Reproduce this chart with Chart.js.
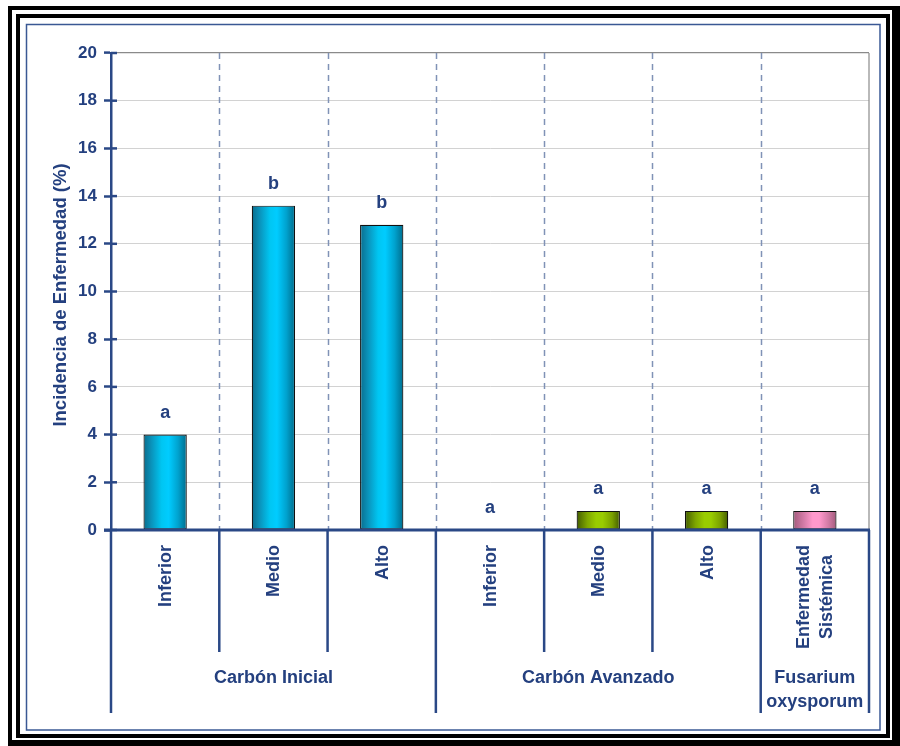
<!DOCTYPE html>
<html>
<head>
<meta charset="utf-8">
<script src="https://cdn.jsdelivr.net/npm/chart.js@4/dist/chart.umd.min.js"></script>
<style>
  html, body { margin: 0; padding: 0; background: #ffffff; }
  canvas { display: block; }
</style>
</head>
<body>
<canvas id="chart" width="900" height="746"></canvas>
<script>
// Treatments (x categories), grouped by disease type
const categories = ['Inferior', 'Medio', 'Alto', 'Inferior', 'Medio', 'Alto', ['Enfermedad', 'Sistémica']];
const groups = ['Carbón Inicial', 'Carbón Avanzado', ['Fusarium', 'oxysporum']];
const groupSizes = [3, 3, 1];
// Disease incidence (%) per treatment
const incidence = [4.0, 13.6, 12.8, 0, 0.8, 0.8, 0.8];
// Significance letters shown above each bar
const letters = ['a', 'b', 'b', 'a', 'a', 'a', 'a'];
const yTitle = 'Incidencia de Enfermedad (%)';
const yMin = 0, yMax = 20, yStep = 2;

const INK = '#24407F';
const AXIS = '#2A4886';
const FAMILY = '"Liberation Sans", Arial, sans-serif';

// Horizontal shading per group: cyan, olive green, pink
const palettes = [
  [[0, '#0A6C8C'], [0.18, '#0A92BA'], [0.42, '#00C6F2'], [0.58, '#00CCFF'], [0.8, '#00A2CE'], [1, '#006C8C']],
  [[0, '#435C00'], [0.25, '#7FA600'], [0.45, '#99CC00'], [0.6, '#99CC00'], [0.82, '#7AA000'], [1, '#435C00']],
  [[0, '#A35A7C'], [0.25, '#D47CA8'], [0.45, '#FF99CC'], [0.6, '#FF99CC'], [0.82, '#D07AA4'], [1, '#A35A7C']]
];
const BAR_FRACTION = 0.4;

function groupOf(i) {
  let acc = 0;
  for (let g = 0; g < groupSizes.length; g++) {
    acc += groupSizes[g];
    if (i < acc) return g;
  }
  return groupSizes.length - 1;
}

function barFill(ctx) {
  const chart = ctx.chart;
  const area = chart.chartArea;
  const i = ctx.dataIndex;
  if (!area || i === undefined) return '#00CCFF';
  const xs = chart.scales.x;
  const cx = xs.getPixelForValue(i);
  const w = (area.right - area.left) / categories.length * BAR_FRACTION;
  const grad = chart.ctx.createLinearGradient(cx - w / 2, 0, cx + w / 2, 0);
  palettes[groupOf(i)].forEach(([o, c]) => grad.addColorStop(o, c));
  return grad;
}

function boundaryX(chart, i) {
  return chart.scales.x.getPixelForValue(i - 0.5);
}

const decor = {
  id: 'decor',
  beforeDraw(chart) {
    const c = chart.ctx;
    c.save();
    // double black frame with a thicker right/bottom edge
    c.fillStyle = '#000';
    c.fillRect(8, 6, 892, 740);
    c.fillStyle = '#fff';
    c.fillRect(12, 10, 880, 730);
    c.fillStyle = '#000';
    c.fillRect(16, 14, 874, 724);
    c.fillStyle = '#fff';
    c.fillRect(20, 18, 866, 716);
    // thin blue chart border
    c.strokeStyle = '#3A5894';
    c.lineWidth = 1.5;
    c.strokeRect(26.5, 24.5, 853.5, 705.5);
    c.restore();
  },
  beforeDatasetsDraw(chart) {
    const c = chart.ctx;
    const a = chart.chartArea;
    c.save();
    // dashed separators between treatments
    c.strokeStyle = '#8092B6';
    c.lineWidth = 1.5;
    c.setLineDash([6, 5]);
    for (let i = 1; i < categories.length; i++) {
      const x = Math.round(boundaryX(chart, i)) + 0.5;
      c.beginPath();
      c.moveTo(x, a.top);
      c.lineTo(x, a.bottom);
      c.stroke();
    }
    c.setLineDash([]);
    // right plot border
    c.strokeStyle = '#8A8A8A';
    c.lineWidth = 1.2;
    c.beginPath();
    c.moveTo(a.right, a.top);
    c.lineTo(a.right, a.bottom);
    c.stroke();
    c.restore();
  },
  afterDatasetsDraw(chart) {
    const c = chart.ctx;
    const a = chart.chartArea;
    const ys = chart.scales.y;
    c.save();

    // inner halves of the y tick marks
    c.strokeStyle = AXIS;
    c.lineWidth = 2.5;
    ys.ticks.forEach(t => {
      const y = ys.getPixelForValue(t.value);
      c.beginPath();
      c.moveTo(a.left, y);
      c.lineTo(a.left + 6, y);
      c.stroke();
    });

    // category axis and drop lines between treatments / groups
    c.lineWidth = 3;
    c.beginPath();
    c.moveTo(a.left - 7, a.bottom);
    c.lineTo(a.right + 1, a.bottom);
    c.stroke();

    const groupEdges = new Set([0]);
    let acc = 0;
    groupSizes.forEach(s => { acc += s; groupEdges.add(acc); });
    c.lineWidth = 2.5;
    for (let i = 0; i <= categories.length; i++) {
      const x = boundaryX(chart, i);
      const yEnd = groupEdges.has(i) ? 713 : 652;
      c.beginPath();
      c.moveTo(x, a.bottom);
      c.lineTo(x, yEnd);
      c.stroke();
    }

    // rotated treatment labels
    c.fillStyle = INK;
    c.font = 'bold 18px ' + FAMILY;
    c.textAlign = 'center';
    c.textBaseline = 'middle';
    const lineGap = 23;
    categories.forEach((lab, i) => {
      const lines = Array.isArray(lab) ? lab : [lab];
      const len = Math.max(...lines.map(l => c.measureText(l).width));
      const cx = chart.scales.x.getPixelForValue(i);
      const cy = a.bottom + 15 + len / 2;
      lines.forEach((l, j) => {
        c.save();
        c.translate(cx + 1 + (j - (lines.length - 1) / 2) * lineGap, cy);
        c.rotate(-Math.PI / 2);
        c.fillText(l, 0, 0);
        c.restore();
      });
    });

    // group labels
    c.textBaseline = 'alphabetic';
    let start = 0;
    groups.forEach((g, gi) => {
      const end = start + groupSizes[gi];
      const cx = (boundaryX(chart, start) + boundaryX(chart, end)) / 2;
      const lines = Array.isArray(g) ? g : [g];
      lines.forEach((l, j) => c.fillText(l, cx, 683 + j * 24));
      start = end;
    });

    // significance letters above bars
    const meta = chart.getDatasetMeta(0);
    meta.data.forEach((bar, i) => {
      c.fillText(letters[i], bar.x, bar.y - 17);
    });

    // y axis title
    c.font = 'bold 18.5px ' + FAMILY;
    c.textBaseline = 'middle';
    c.save();
    c.translate(61, 295);
    c.rotate(-Math.PI / 2);
    c.fillText(yTitle, 0, 0);
    c.restore();

    c.restore();
  }
};

new Chart(document.getElementById('chart'), {
  type: 'bar',
  data: {
    labels: categories,
    datasets: [{
      data: incidence,
      backgroundColor: barFill,
      borderColor: '#111111',
      borderWidth: 1.2,
      borderSkipped: false,
      categoryPercentage: 1,
      barPercentage: BAR_FRACTION
    }]
  },
  options: {
    responsive: false,
    devicePixelRatio: 1,
    animation: false,
    events: [],
    layout: { padding: { left: 0, top: 53, right: 31, bottom: 0 } },
    plugins: { legend: { display: false }, tooltip: { enabled: false } },
    scales: {
      x: {
        type: 'category',
        offset: true,
        ticks: { display: false },
        grid: { display: false },
        border: { display: false },
        afterFit(scale) { scale.height = 216; }
      },
      y: {
        min: yMin,
        max: yMax,
        ticks: {
          stepSize: yStep,
          color: INK,
          padding: 7,
          font: { family: FAMILY, size: 17, weight: 'bold' }
        },
        grid: {
          color: ctx => (ctx.tick && ctx.tick.value === yMax) ? '#8A8A8A' : '#D2D2D2',
          lineWidth: ctx => (ctx.tick && ctx.tick.value === yMax) ? 1.2 : 1,
          drawTicks: true,
          tickLength: 7,
          tickColor: AXIS,
          tickWidth: 2.5
        },
        border: { display: true, color: AXIS, width: 2.5 },
        afterFit(scale) { scale.width = 111; }
      }
    }
  },
  plugins: [decor]
});
</script>
</body>
</html>
